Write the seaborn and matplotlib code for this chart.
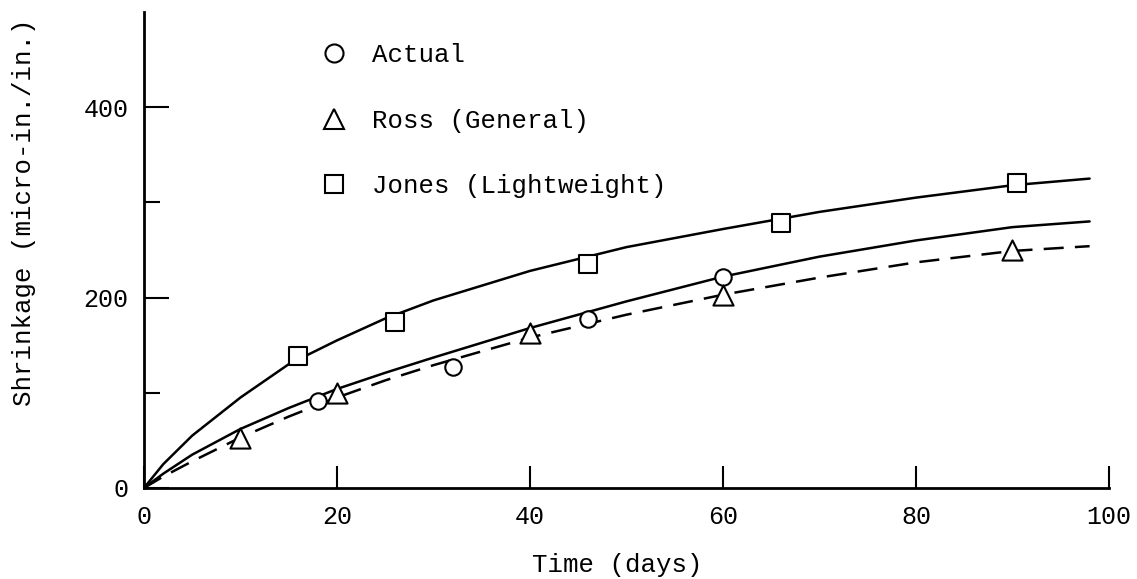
import matplotlib
matplotlib.use("Agg")
import matplotlib.pyplot as plt
from matplotlib.lines import Line2D
from matplotlib.ticker import FixedLocator
import seaborn as sns
import pandas as pd

# ---- data ----
curve_days = [0, 2, 5, 10, 15, 20, 25, 30, 40, 50, 60, 70, 80, 90, 98]
jones_curve = [0, 25, 55, 95, 130, 155, 178, 197, 228, 253, 272, 290, 305, 318, 325]
actual_curve = [0, 15, 35, 62, 84, 104, 121, 137, 168, 196, 222, 243, 260, 274, 280]
ross_curve = [0, 12, 28, 53, 75, 95, 113, 129, 158, 182, 203, 221, 237, 249, 254]

actual_days = [18, 32, 46, 60]
actual_vals = [91, 127, 177, 222]
ross_days = [10, 20, 40, 60, 90]
ross_vals = [53, 100, 163, 203, 250]
jones_days = [16, 26, 46, 66, 90.5]
jones_vals = [139, 174, 235, 278, 320]

labels = ["Actual", "Ross (General)", "Jones (Lightweight)"]
x_ticks = [0, 20, 40, 60, 80, 100]
y_major = [0, 200, 400]
y_minor = [100, 300]

sns.set_style("white")
FONT = ["Liberation Mono", "DejaVu Sans Mono"]
plt.rcParams["font.family"] = FONT
plt.rcParams["text.color"] = "black"
plt.rcParams["axes.labelcolor"] = "black"

fig = plt.figure(figsize=(11.37, 5.79), dpi=100)
ax = fig.add_axes([0.1266, 0.1572, 0.8487, 0.8221])

curves = pd.DataFrame({"day": curve_days * 3,
                       "val": jones_curve + actual_curve + ross_curve,
                       "s": ["J"] * len(curve_days) + ["A"] * len(curve_days) + ["R"] * len(curve_days)})
LW = 1.8
sns.lineplot(data=curves[curves.s == "J"], x="day", y="val", ax=ax, color="black",
             lw=LW, sort=False, estimator=None)
sns.lineplot(data=curves[curves.s == "A"], x="day", y="val", ax=ax, color="black",
             lw=LW, sort=False, estimator=None)
sns.lineplot(data=curves[curves.s == "R"], x="day", y="val", ax=ax, color="black",
             lw=LW, sort=False, estimator=None, dashes=False, linestyle=(0, (8, 4.5)))

mk = dict(facecolor="white", edgecolor="black", linewidth=1.5, zorder=5, ax=ax)
sns.scatterplot(x=actual_days, y=actual_vals, marker="o", s=140, **mk)
sns.scatterplot(x=ross_days, y=ross_vals, marker="^", s=210, **mk)
sns.scatterplot(x=jones_days, y=jones_vals, marker="s", s=170, **mk)

ax.set_xlim(0, 100)
ax.set_ylim(0, 500)
ax.xaxis.set_major_locator(FixedLocator(x_ticks))
ax.yaxis.set_major_locator(FixedLocator(y_major))
ax.yaxis.set_minor_locator(FixedLocator(y_minor))

for side in ["top", "right"]:
    ax.spines[side].set_visible(False)
for side in ["left", "bottom"]:
    ax.spines[side].set_linewidth(2.0)
    ax.spines[side].set_color("black")

ax.tick_params(axis="x", which="major", direction="in", length=16, width=1.5,
               pad=12, labelsize=18, colors="black", bottom=True)
ax.tick_params(axis="y", which="major", direction="in", length=18, width=1.5,
               pad=11, labelsize=18, colors="black", left=True)
ax.tick_params(axis="y", which="minor", direction="in", length=11.5, width=1.5,
               colors="black", left=True)

ax.set_xlabel("Time (days)", fontsize=18.5, color="black")
ax.set_ylabel("Shrinkage (micro-in./in.)", fontsize=18.5, color="black")
ax.xaxis.set_label_coords(0.49, -0.137)
ax.yaxis.set_label_coords(-0.112, 0.58)

handles = [
    Line2D([], [], linestyle="none", marker="o", markersize=13, markerfacecolor="white",
           markeredgecolor="black", markeredgewidth=1.5),
    Line2D([], [], linestyle="none", marker="^", markersize=15, markerfacecolor="white",
           markeredgecolor="black", markeredgewidth=1.5),
    Line2D([], [], linestyle="none", marker="s", markersize=13.5, markerfacecolor="white",
           markeredgecolor="black", markeredgewidth=1.5),
]
ax.legend(handles, labels, loc="upper left", bbox_to_anchor=(0.1834, 0.935),
          frameon=False, borderpad=0, borderaxespad=0, handlelength=1.0,
          handletextpad=1.0, labelspacing=1.62, labelcolor="black",
          prop={"family": FONT, "size": 18.5})

fig.savefig("out.png", dpi=100)
